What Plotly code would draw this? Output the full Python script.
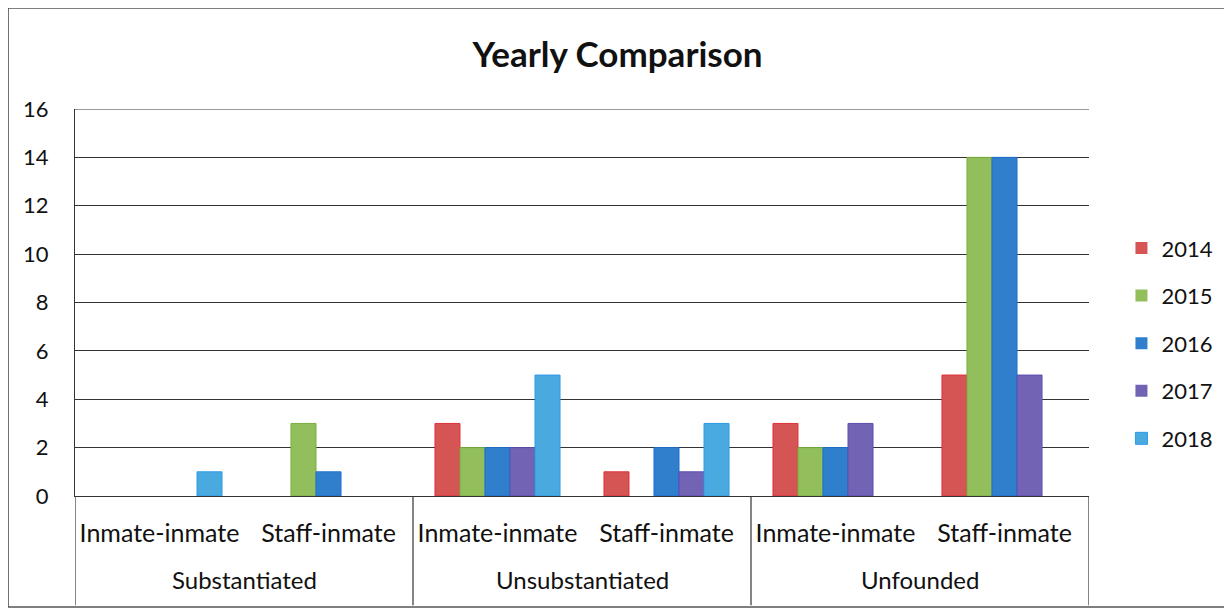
import plotly.graph_objects as go

groups = ["Substantiated", "Unsubstantiated", "Unfounded"]
subcats = ["Inmate-inmate", "Staff-inmate", "Inmate-inmate", "Staff-inmate", "Inmate-inmate", "Staff-inmate"]
years = ["2014", "2015", "2016", "2017", "2018"]
v2014 = [0, 0, 3, 1, 3, 5]
v2015 = [0, 3, 2, 0, 2, 14]
v2016 = [0, 1, 2, 2, 2, 14]
v2017 = [0, 0, 2, 1, 3, 5]
v2018 = [1, 0, 5, 3, 0, 0]
series = [v2014, v2015, v2016, v2017, v2018]
colors = ["#D55454", "#92BE5C", "#2F7FCC", "#7263B4", "#4AAADF"]
edges = ["#E0303A", "#7AAE3E", "#1F6FD0", "#5A4FB0", "#2C9AE8"]
yticks = [0, 2, 4, 6, 8, 10, 12, 14, 16]

FONT = "Lato"
INK = "#111111"
LINE = "#333333"
xpos = list(range(len(subcats)))
per_group = len(subcats) // len(groups)

fig = go.Figure()
for name, vals, c, e in zip(years, series, colors, edges):
    fig.add_trace(go.Bar(
        name=name, x=xpos, y=vals, legendgroup=name,
        marker=dict(color=c, line=dict(color=e, width=[1 if v else 0 for v in vals])),
    ))

fig.update_layout(
    width=1224, height=602,
    barmode="group", bargap=0.26, bargroupgap=0,
    paper_bgcolor="white", plot_bgcolor="white",
    margin=dict(l=67, r=143, t=101, b=114),
    font=dict(family=FONT, size=22, color=INK),
    title=dict(text="<b>Yearly Comparison</b>", x=0.498, xanchor="center",
               y=0.922, yanchor="middle", font=dict(size=35, family=FONT, color=INK)),
    legend=dict(x=1.032, xanchor="left", y=0.395, yanchor="middle",
                font=dict(size=22, family=FONT, color=INK), tracegroupgap=16,
                traceorder="grouped", itemwidth=30, bgcolor="rgba(0,0,0,0)"),
    showlegend=True,
)
fig.update_yaxes(range=[0, 16], tickvals=yticks, showgrid=True, gridcolor=LINE,
                 gridwidth=1.2, showline=True, linecolor=LINE, linewidth=1.2,
                 ticks="", ticklabelstandoff=21, zeroline=False,
                 tickfont=dict(size=22, family=FONT, color=INK))
fig.update_xaxes(range=[-0.5, len(subcats) - 0.5], tickvals=xpos, ticktext=subcats,
                 showline=True, linecolor=LINE, linewidth=1.2, ticks="", showgrid=False,
                 zeroline=False, ticklabelstandoff=15,
                 tickfont=dict(size=25, family=FONT, color=INK))

# top gridline at the axis maximum
fig.add_shape(type="line", xref="paper", yref="y", x0=0, x1=1, y0=yticks[-1], y1=yticks[-1],
              line=dict(color=LINE, width=1.2))

# group dividers and group labels
for gi, g in enumerate(groups):
    left = gi * per_group - 0.5
    fig.add_annotation(text=g, xref="x", yref="paper", x=left + per_group / 2, y=-0.217,
                       xanchor="center", yanchor="middle", showarrow=False,
                       font=dict(size=24, family=FONT, color=INK))
for k in range(len(groups) + 1):
    xd = k * per_group - 0.5
    fig.add_shape(type="line", xref="x", yref="paper", x0=xd, x1=xd, y0=0, y1=-0.282,
                  line=dict(color=LINE, width=1.2))

# chart frame
fig.add_shape(type="rect", xref="paper", yref="paper",
              x0=-0.066, x1=1.1426, y0=-0.287, y1=1.261,
              line=dict(color="#555555", width=1.5), fillcolor="rgba(0,0,0,0)")

fig.write_html("out.html")
